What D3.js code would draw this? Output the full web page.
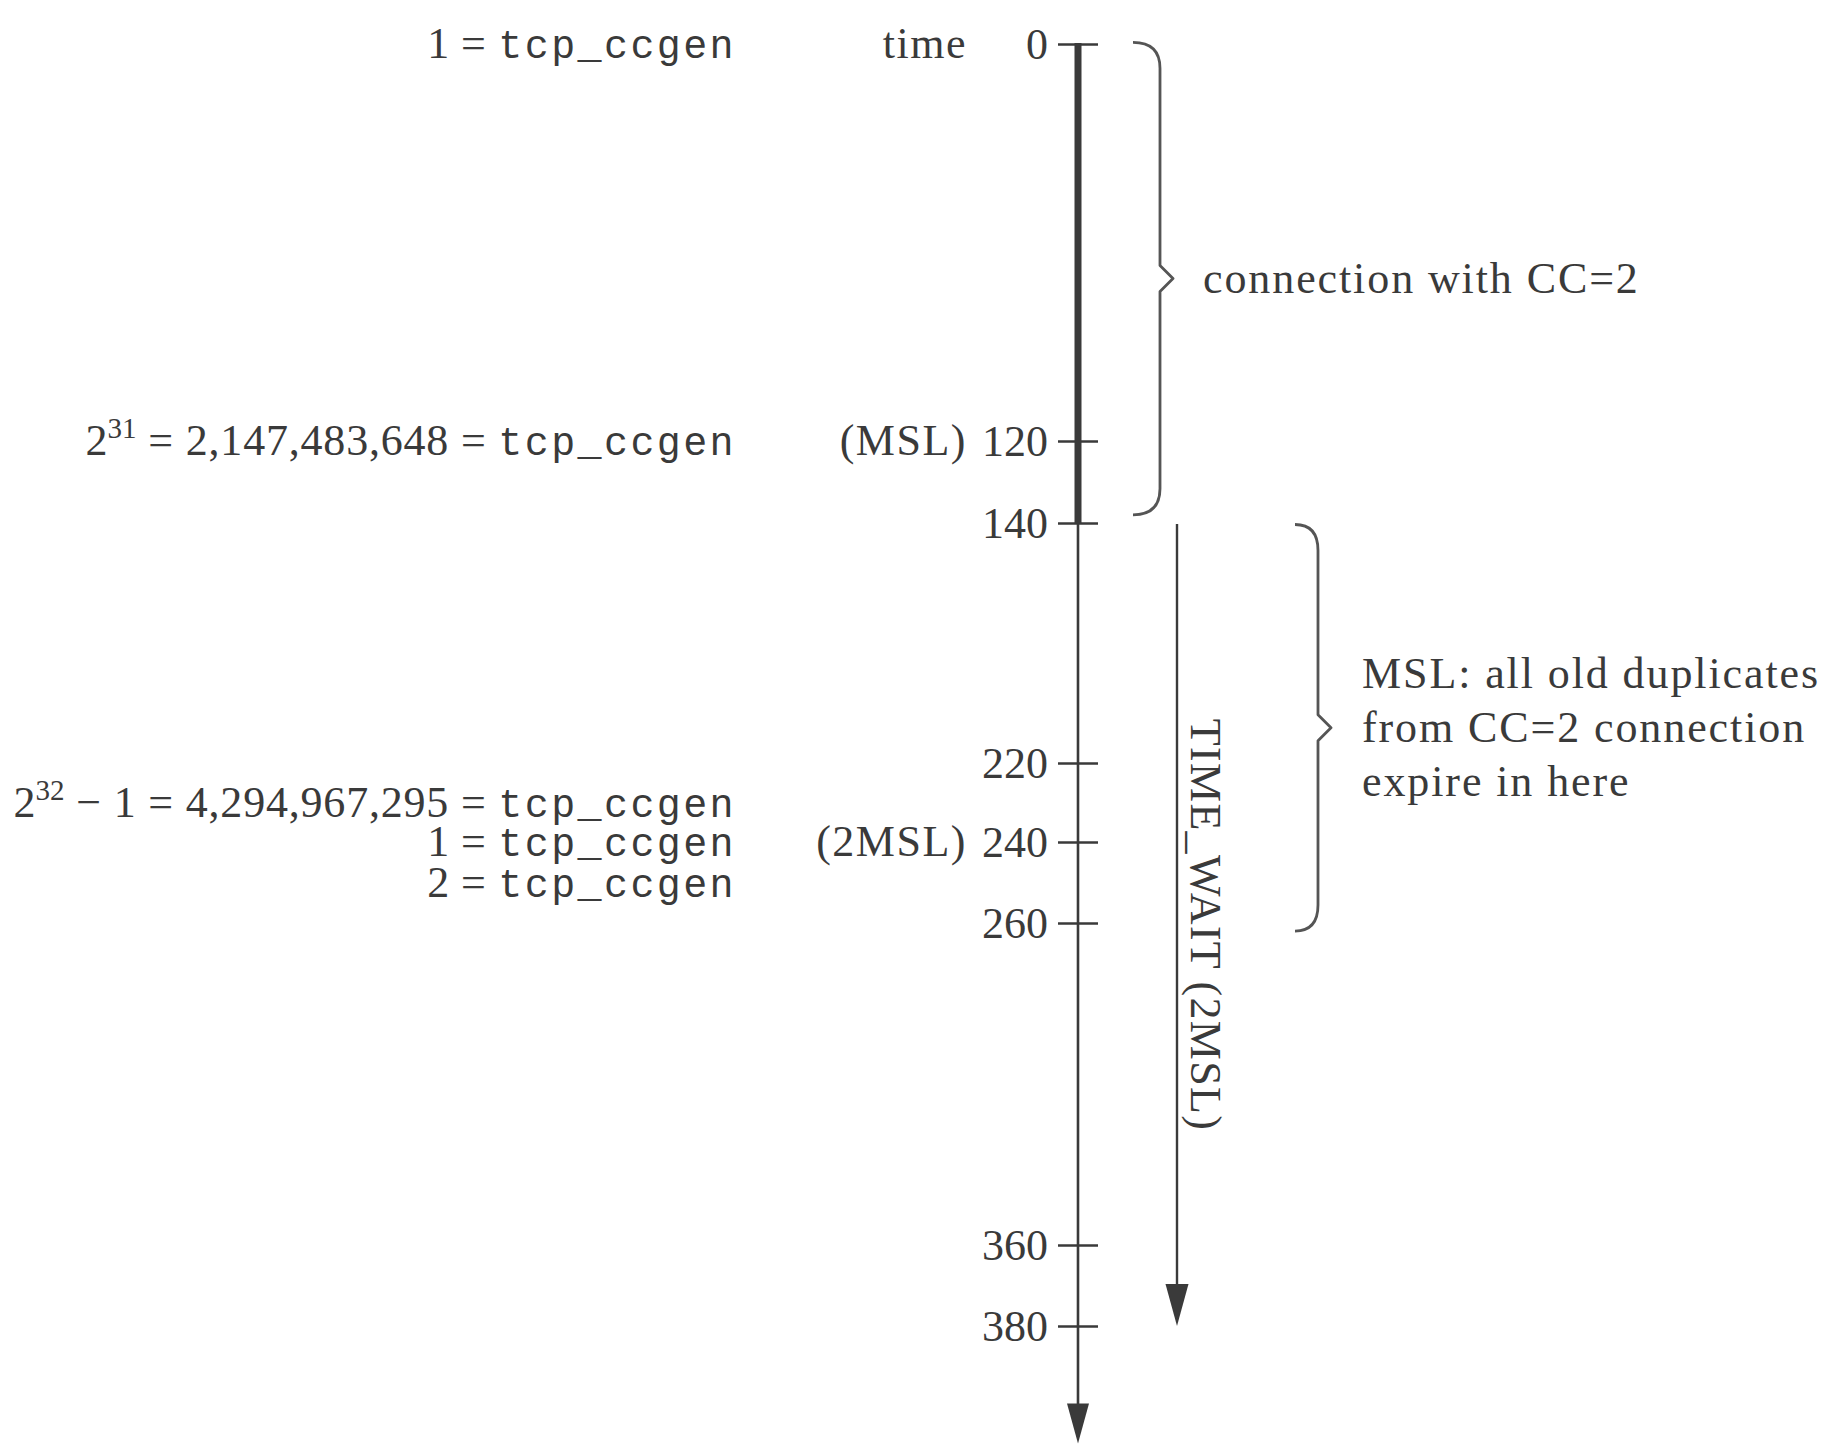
<!DOCTYPE html>
<html>
<head>
<meta charset="utf-8">
<script src="https://cdn.jsdelivr.net/npm/d3@7"></script>
<style>
  html, body { margin: 0; padding: 0; background: #fff; }
  svg { display: block; }
</style>
</head>
<body>
<svg id="chart" width="1821" height="1445"></svg>
<script>
// ---- data ----
const tickValues = [0, 120, 140, 220, 240, 260, 360, 380];
const connectionSpan = [0, 140];      // thick part of the time line (connection with CC=2)
const timeWaitSpan = [140, 380];      // TIME_WAIT (2MSL)
const axisEnd = 409;
const midLabels = [
  { t: 0, text: "time" },
  { t: 120, text: "(MSL)" },
  { t: 240, text: "(2MSL)" }
];
// left labels: serif parts (with optional superscript) + monospace variable name
const leftLabels = [
  { t: 0,   base: "1",  sup: "",   rest: " = ",                   mono: "tcp_ccgen" },
  { t: 120, base: "2",  sup: "31", rest: " = 2,147,483,648 = ",   mono: "tcp_ccgen" },
  { t: 230, base: "2",  sup: "32", rest: " \u2212 1 = 4,294,967,295 = ", mono: "tcp_ccgen" },
  { t: 240, base: "1",  sup: "",   rest: " = ",                   mono: "tcp_ccgen" },
  { t: 250, base: "2",  sup: "",   rest: " = ",                   mono: "tcp_ccgen" }
];
const braces = [
  { from: -0.5, to: 138, lines: ["connection with CC=2"] },
  { from: 140.5, to: 262.5, lines: ["MSL: all old duplicates", "from CC=2 connection", "expire in here"] }
];
const timeWaitLabel = "TIME_WAIT (2MSL)";

// ---- layout ----
const svg = d3.select("#chart");
const ink = "#3a3a3a";
const serif = "'Liberation Serif', 'Times New Roman', serif";
const mono = "'Liberation Mono', 'Courier New', monospace";
const FS = 44;
const axisX = 1078;

// schematic (broken) time scale
const y = d3.scaleLinear()
  .domain([0, 120, 140, 220, 240, 260, 360, 380])
  .range([44, 441, 523, 763, 842, 923, 1245, 1326]);

// axis with ticks crossing the line
const axis = d3.axisLeft(y).tickValues(tickValues).tickSize(20).tickPadding(10).tickFormat(d3.format("d"));
const gAxis = svg.append("g").attr("transform", `translate(${axisX},0)`).call(axis);
gAxis.select(".domain").remove();
gAxis.selectAll(".tick line").attr("x1", 20).attr("stroke", ink).attr("stroke-width", 2.6);
gAxis.selectAll(".tick text").attr("fill", ink).style("font-family", serif).style("font-size", FS + "px");

// thick connection segment
svg.append("line")
  .attr("x1", axisX).attr("x2", axisX)
  .attr("y1", y(connectionSpan[0]) - 1).attr("y2", y(connectionSpan[1]))
  .attr("stroke", ink).attr("stroke-width", 7);
// thin continuing time line with arrow
const yEnd = y(axisEnd);
svg.append("line")
  .attr("x1", axisX).attr("x2", axisX)
  .attr("y1", y(connectionSpan[1])).attr("y2", yEnd - 30)
  .attr("stroke", ink).attr("stroke-width", 2.6);
svg.append("path")
  .attr("d", `M${axisX - 11},${yEnd - 40} L${axisX + 11},${yEnd - 40} L${axisX},${yEnd} Z`)
  .attr("fill", ink);

// TIME_WAIT arrow
const twX = 1177;
const twTop = y(timeWaitSpan[0]) + 1, twBot = y(timeWaitSpan[1]);
svg.append("line")
  .attr("x1", twX).attr("x2", twX).attr("y1", twTop).attr("y2", twBot - 30)
  .attr("stroke", ink).attr("stroke-width", 2.4);
svg.append("path")
  .attr("d", `M${twX - 11.5},${twBot - 42} L${twX + 11.5},${twBot - 42} L${twX},${twBot} Z`)
  .attr("fill", ink);
svg.append("text")
  .attr("transform", `translate(1191,${(twTop + twBot) / 2}) rotate(90)`)
  .attr("text-anchor", "middle")
  .attr("fill", ink)
  .style("font-family", serif).style("font-size", FS + "px").style("letter-spacing", "1.3px")
  .text(timeWaitLabel);

// middle labels
svg.append("g").selectAll("text").data(midLabels).join("text")
  .attr("x", 967).attr("y", d => y(d.t)).attr("dy", "0.32em")
  .attr("text-anchor", "end").attr("fill", ink)
  .style("font-family", serif).style("font-size", FS + "px").style("letter-spacing", "1.5px")
  .text(d => d.text);

// left labels
const lt = svg.append("g").selectAll("text").data(leftLabels).join("text")
  .attr("x", 736).attr("y", d => y(d.t)).attr("dy", "0.32em")
  .attr("text-anchor", "end").attr("fill", ink)
  .style("font-family", serif).style("font-size", FS + "px");
lt.append("tspan").text(d => d.base);
lt.filter(d => d.sup).append("tspan").attr("dy", -17).style("font-size", "29px").text(d => d.sup);
lt.append("tspan").attr("dy", d => d.sup ? 17 : 0).style("letter-spacing", "0.8px").text(d => d.rest);
lt.append("tspan").style("font-family", mono).style("font-size", "40px")
  .style("letter-spacing", "2.4px").text(d => d.mono);

// braces
const braceGeom = [
  { xL: 1133, xB: 1160, xT: 1173, textX: 1203 },
  { xL: 1295, xB: 1318, xT: 1331, textX: 1362 }
];
function bracePath(g, y0, y1) {
  const ym = (y0 + y1) / 2, r = 26, r2 = 13;
  return `M${g.xL},${y0} Q${g.xB},${y0} ${g.xB},${y0 + r} L${g.xB},${ym - r2} L${g.xT},${ym}` +
         ` L${g.xB},${ym + r2} L${g.xB},${y1 - r} Q${g.xB},${y1} ${g.xL},${y1}`;
}
braces.forEach((b, i) => {
  const g = braceGeom[i];
  const y0 = y(b.from), y1 = y(b.to), ym = (y0 + y1) / 2;
  svg.append("path").attr("d", bracePath(g, y0, y1))
    .attr("fill", "none").attr("stroke", "#555").attr("stroke-width", 2.8)
    .attr("stroke-linejoin", "round");
  const lh = 54;
  const t = svg.append("text").attr("fill", ink)
    .style("font-family", serif).style("font-size", FS + "px").style("letter-spacing", "1.9px");
  b.lines.forEach((line, j) => {
    t.append("tspan").attr("x", g.textX)
      .attr("y", ym - (b.lines.length - 1) * lh / 2 + j * lh)
      .attr("dy", "0.32em").text(line);
  });
});
</script>
</body>
</html>
